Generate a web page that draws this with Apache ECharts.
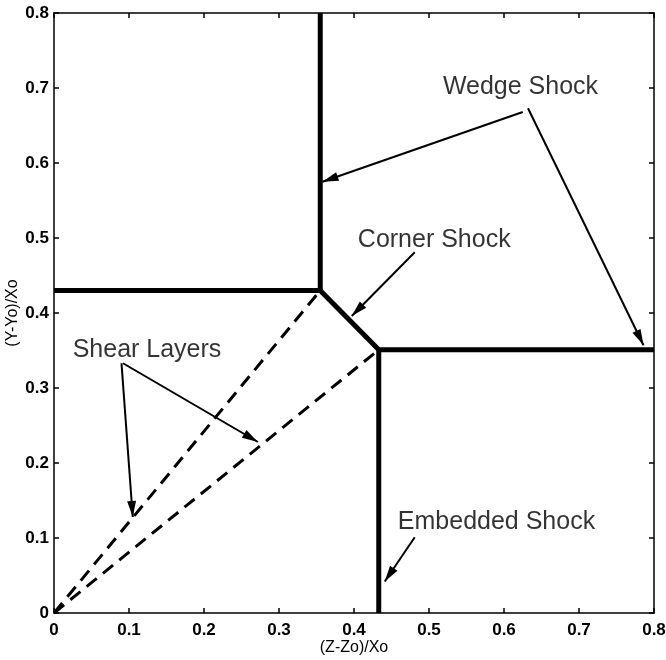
<!DOCTYPE html>
<html>
<head>
<meta charset="utf-8">
<script src="https://cdn.jsdelivr.net/npm/echarts@6/dist/echarts.min.js"></script>
<style>
  html, body { margin: 0; padding: 0; background: #fff; }
  #chart { width: 666px; height: 660px; }
</style>
</head>
<body>
<div id="chart"></div>
<script>
// Axis ticks
const xTicks = [0, 0.1, 0.2, 0.3, 0.4, 0.5, 0.6, 0.7, 0.8];
const yTicks = [0, 0.1, 0.2, 0.3, 0.4, 0.5, 0.6, 0.7, 0.8];

// Shock structure (solid, thick)
const upperShock = [[0, 0.43], [0.355, 0.43], [0.355, 0.8]];
const cornerShock = [[0.355, 0.43], [0.433, 0.351]];
const lowerShock = [[0.433, 0], [0.433, 0.351], [0.8, 0.351]];

// Shear layers (dashed) from the origin to the corner-shock ends
const shearLayerUpper = [[0, 0], [0.355, 0.43]];
const shearLayerLower = [[0, 0], [0.433, 0.351]];

// Annotation text positions
const labelNames = ['Wedge Shock', 'Corner Shock', 'Shear Layers', 'Embedded Shock'];
const labelPos = [[0.622, 0.701], [0.507, 0.497], [0.124, 0.350], [0.59, 0.121]];

// Pointer arrows: [start, tip]
const arrows = [
  [[0.625, 0.668], [0.358, 0.575]],
  [[0.632, 0.673], [0.786, 0.357]],
  [[0.481, 0.481], [0.397, 0.396]],
  [[0.092, 0.333], [0.272, 0.228]],
  [[0.090, 0.333], [0.105, 0.128]],
  [[0.481, 0.101], [0.441, 0.042]]
];

const FONT = 'Liberation Sans, Arial, Helvetica, sans-serif';
// narrow filled arrowhead; tip sits at the centre of a square bounding box
const ARROW_HEAD = 'path://M0,0M32,32M16,16L20.5,32L11.5,32Z';

const chart = echarts.init(document.getElementById('chart'), null, { renderer: 'canvas' });

const baseX = {
  type: 'value', min: 0, max: 0.8, interval: 0.1,
  axisLine: { show: true, onZero: false, lineStyle: { color: '#000', width: 1.5 } },
  axisTick: { show: true, inside: true, length: 5, lineStyle: { color: '#000', width: 1.5 } },
  splitLine: { show: false }
};

const option = {
  backgroundColor: '#fff',
  animation: false,
  grid: { left: 54, top: 13, width: 600, height: 600, containLabel: false, outerBoundsMode: 'none' },
  xAxis: [
    Object.assign({}, baseX, {
      position: 'bottom',
      name: '(Z-Zo)/Xo', nameLocation: 'middle', nameGap: 27, nameMoveOverlap: false,
      nameTextStyle: { color: '#000', fontSize: 16, fontFamily: FONT },
      axisLabel: {
        color: '#000', fontSize: 17, fontWeight: 'bold', fontFamily: FONT, margin: 9,
        formatter: v => xTicks.includes(Math.round(v * 10) / 10) ? String(Math.round(v * 10) / 10) : ''
      }
    }),
    Object.assign({}, baseX, { position: 'top', axisLabel: { show: false } })
  ],
  yAxis: [
    Object.assign({}, baseX, {
      position: 'left',
      name: '(Y-Yo)/Xo', nameLocation: 'middle', nameGap: 33, nameMoveOverlap: false,
      nameTextStyle: { color: '#000', fontSize: 16, fontFamily: FONT },
      axisLabel: {
        color: '#000', fontSize: 17, fontWeight: 'bold', fontFamily: FONT, margin: 5,
        formatter: v => yTicks.includes(Math.round(v * 10) / 10) ? String(Math.round(v * 10) / 10) : ''
      }
    }),
    Object.assign({}, baseX, { position: 'right', axisLabel: { show: false } })
  ],
  series: [
    ...[upperShock, cornerShock, lowerShock].map(d => ({
      type: 'line', data: d, symbol: 'none', silent: true,
      lineStyle: { color: '#000', width: 5, join: 'miter', cap: 'butt' }
    })),
    ...[shearLayerUpper, shearLayerLower].map(d => ({
      type: 'line', data: d, symbol: 'none', silent: true,
      lineStyle: { color: '#000', width: 3, type: [13, 8] }
    })),
    {
      type: 'lines', coordinateSystem: 'cartesian2d', silent: true,
      symbol: ['none', ARROW_HEAD], symbolSize: 32,
      lineStyle: { color: '#000', width: 2, opacity: 1 },
      data: arrows.map(a => ({ coords: a }))
    },
    {
      type: 'scatter', symbolSize: 0, silent: true,
      data: labelPos.map((p, i) => ({ name: labelNames[i], value: p })),
      label: {
        show: true, position: 'inside', formatter: '{b}',
        color: '#000', fontSize: 25, fontFamily: FONT
      }
    }
  ]
};

chart.setOption(option);
</script>
</body>
</html>
